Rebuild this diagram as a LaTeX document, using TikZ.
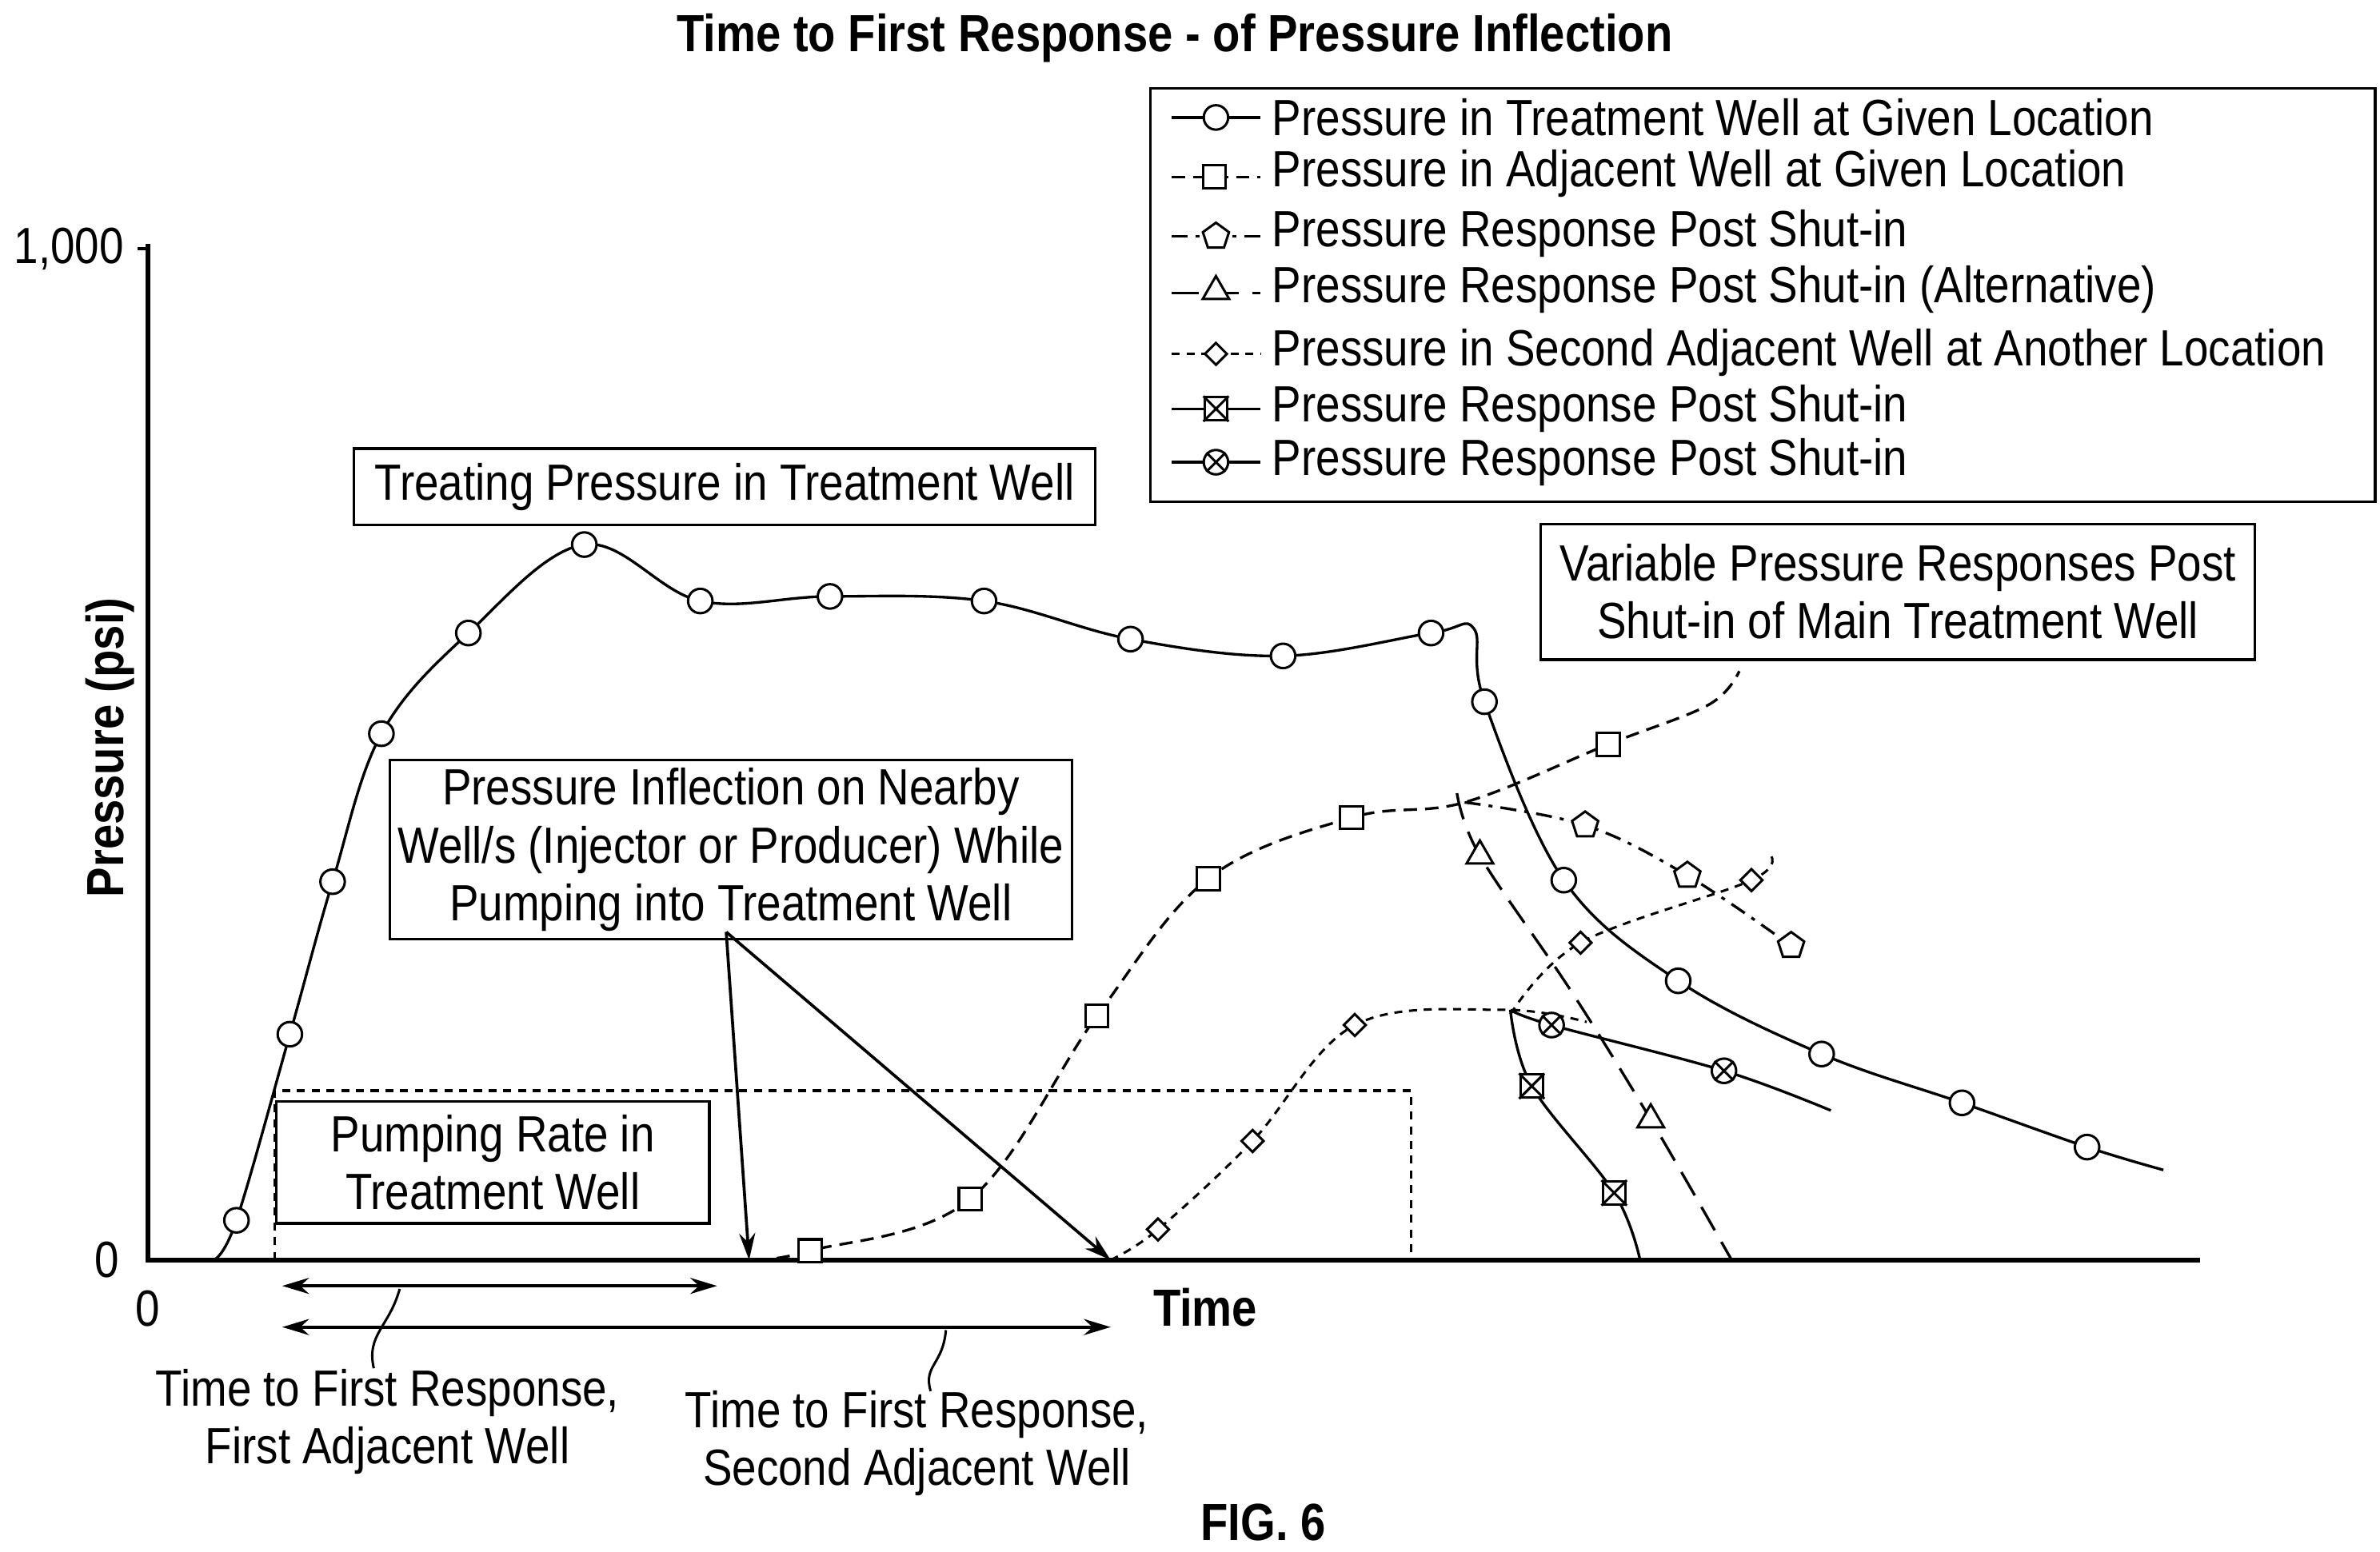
\documentclass[tikz,border=0pt]{standalone}
\usepackage{fontspec}
\setmainfont[FakeStretch=0.86]{Liberation Sans}
\usetikzlibrary{shapes.geometric,shapes.misc,arrows.meta}
\begin{document}
\begin{tikzpicture}[x=0.02cm,y=-0.02cm,line width=1.1pt,
  every node/.style={font=\fontsize{19}{21.5}\selectfont},
  mk/.style={draw,fill=white,inner sep=0pt,line width=0.9pt},
  circ/.style={mk,circle,minimum size=16*0.02cm},
  sq/.style={mk,rectangle,minimum size=15*0.02cm},
  pent/.style={mk,regular polygon,regular polygon sides=5,minimum size=18*0.02cm},
  tri/.style={mk,regular polygon,regular polygon sides=3,minimum size=20*0.02cm},
  dia/.style={mk,diamond,minimum size=15*0.02cm},
  xo/.style={draw,cross out,inner sep=0pt,line width=0.9pt},
  box/.style={draw,fill=white,align=center,inner sep=3pt,line width=1pt},
  c1/.style={line width=1pt},
  c2/.style={line width=1pt,dash pattern=on 5pt off 3pt},
  c3/.style={line width=1pt,dash pattern=on 6pt off 3pt on 1.5pt off 3pt},
  c4/.style={line width=1pt,dash pattern=on 10pt off 5pt},
  c5/.style={line width=0.9pt,dash pattern=on 3pt off 2.5pt},
  lbl/.style={anchor=west,inner sep=0pt}]
\useasboundingbox (0,0) rectangle (1560,1017);
% title
\node[font=\fontsize{19.5}{21}\selectfont\bfseries] (title) at (770,25) {Time to First Response - of Pressure Inflection};
\node[font=\fontsize{19.5}{21}\selectfont\bfseries] (fig) at (828,998) {FIG. 6};
% axes
\coordinate (ytop) at (97,160); \coordinate (o) at (97,826); \coordinate (xend) at (1442,826);
\draw[line width=1.8pt] (ytop) -- (o) -- (xend);
\draw (90,163) -- (97,163);
\node[anchor=east] (t1000) at (88,163) {1,000};
\node[anchor=east] (t0) at (85,826) {0};
\node (x0) at (97,858) {0};
\node[font=\fontsize{19.5}{21}\selectfont\bfseries] (time) at (790,857) {Time};
\node[font=\fontsize{19.5}{21}\selectfont\bfseries,rotate=90] (pres) at (72,490) {Pressure (psi)};
% pumping rate
\draw[c5] (180,826) -- (180,715) -- (925,715) -- (925,826);
% treatment well
\draw[c1] plot[smooth,tension=0.6] coordinates {(140,826)(155,800)(190,678)(218,578)(250,481)(307,415)(383,357)(459,394)(544,391)(645,394)(741,419)(841,430)(938,415)(966,412)(973,460)(1025,577)(1100,643)(1194,691)(1286,723)(1368,752)(1418,767)};
% adjacent well
\draw[c2] plot[smooth,tension=0.6] coordinates {(495,826)(531,820)(636,786)(719,666)(792,576)(886,536)(960,526)(1054,488)(1120,462)(1140,440)};
% pentagon
\draw[c3] plot[smooth,tension=0.6] coordinates {(960,526)(1039,541)(1106,574)(1174,620)};
% triangle
\draw[c4] plot[smooth,tension=0.6] coordinates {(955,520)(970,561)(1030,650)(1082,734)(1135,826)};
% second adjacent
\draw[c5] plot[smooth,tension=0.6] coordinates {(728,826)(759,806)(821,748)(888,672)(985,662)(1040,670)};
\draw[c5] plot[smooth,tension=0.6] coordinates {(990,665)(1036,618)(1148,577)(1160,560)};
% crossed square
\draw[c1] plot[smooth,tension=0.6] coordinates {(990,662)(1004,712)(1058,782)(1075,826)};
% crossed circle
\draw[c1] plot[smooth,tension=0.6] coordinates {(990,662)(1017,672)(1130,702)(1200,728)};
% markers
\foreach \p in {(155,800),(190,678),(218,578),(250,481),(307,415),(383,357),(459,394),(544,391),(645,394),(741,419),(841,430),(938,415),(973,460),(1025,577),(1100,643),(1194,691),(1286,723),(1368,752)} \node[circ] at \p {};
\foreach \p in {(531,820),(636,786),(719,666),(792,576),(886,536),(1054,488)} \node[sq] at \p {};
\foreach \p in {(1039,541),(1106,574),(1174,620)} \node[pent] at \p {};
\foreach \p in {(970,561),(1082,734)} \node[tri] at \p {};
\foreach \p in {(759,806),(821,748),(888,672),(1036,618),(1148,577)} \node[dia] at \p {};
\foreach \p in {(1004,712),(1058,782)} {\node[sq] at \p {}; \node[xo,minimum size=15*0.02cm] at \p {};}
\foreach \p in {(1017,672),(1130,702)} {\node[circ] at \p {}; \node[xo,minimum size=11*0.02cm] at \p {};}
% legend
\node[draw,line width=1pt,minimum width=803*0.02cm,minimum height=271*0.02cm,anchor=north west,inner sep=0pt] (legend) at (753,57) {};
\draw[c1] (768,77) -- (826,77); \node[circ] at (797,77) {}; \node[lbl] (l1) at (833,77) {Pressure in Treatment Well at Given Location};
\draw[c2] (768,116) -- (826,116); \node[sq] at (796,116) {}; \node[lbl] (l2) at (833,114) {Pressure in Adjacent Well at Given Location};
\draw[c3] (768,155) -- (826,155); \node[pent] at (797,155) {}; \node[lbl] (l3) at (833,153) {Pressure Response Post Shut-in};
\draw[c4] (768,192) -- (826,192); \node[tri] at (797,191) {}; \node[lbl] (l4) at (833,190) {Pressure Response Post Shut-in (Alternative)};
\draw[c5] (768,232) -- (826,232); \node[dia] at (797,232) {}; \node[lbl] (l5) at (833,231) {Pressure in Second Adjacent Well at Another Location};
\draw[c1] (768,268) -- (826,268); \node[sq] at (797,268) {}; \node[xo,minimum size=15*0.02cm] at (797,268) {}; \node[lbl] (l6) at (833,268) {Pressure Response Post Shut-in};
\draw[c1] (768,303) -- (826,303); \node[circ] at (797,303) {}; \node[xo,minimum size=11*0.02cm] at (797,303) {}; \node[lbl] (l7) at (833,303) {Pressure Response Post Shut-in};
% annotation boxes
\node[box,minimum width=486*0.02cm,minimum height=50*0.02cm] (tp) at (475,319) {Treating Pressure in Treatment Well};
\node[box,minimum width=468*0.02cm,minimum height=89*0.02cm] (vp) at (1244,388) {Variable Pressure Responses Post\\Shut-in of Main Treatment Well};
\node[box,minimum width=446*0.02cm,minimum height=108*0.02cm] (pi) at (479,557) {Pressure Inflection on Nearby\\Well/s (Injector or Producer) While\\Pumping into Treatment Well};
\node[box,minimum width=284*0.02cm,minimum height=80*0.02cm] (pr) at (323,762) {Pumping Rate in\\Treatment Well};
\coordinate (pib) at (476,611);
\coordinate (a1) at (491,826); \coordinate (a2) at (728,826);
\draw[-{Stealth[length=10pt,width=6pt]}] (pib) -- (a1);
\draw[-{Stealth[length=10pt,width=6pt]}] (pib) -- (a2);
% time spans
\coordinate (s1a) at (185,843); \coordinate (s1b) at (470,843);
\coordinate (s2a) at (185,870); \coordinate (s2b) at (728,870);
\draw[{Stealth[length=10pt,width=6pt]}-{Stealth[length=10pt,width=6pt]}] (s1a) -- (s1b);
\draw[{Stealth[length=10pt,width=6pt]}-{Stealth[length=10pt,width=6pt]}] (s2a) -- (s2b);
\node[align=center] (tf1) at (254,932) {Time to First Response,\\First Adjacent Well};
\node[align=center] (tf2) at (601,946) {Time to First Response,\\Second Adjacent Well};
\coordinate (k1) at (262,845); \coordinate (k2) at (620,872);
\draw[line width=0.9pt] (k1) .. controls (255,870) and (240,875) .. (245,897);
\draw[line width=0.9pt] (k2) .. controls (618,895) and (605,895) .. (610,912);
\end{tikzpicture}
\end{document}
